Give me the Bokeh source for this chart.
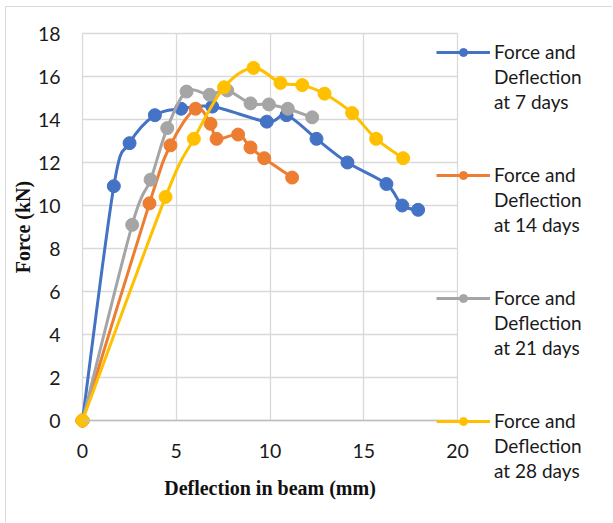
import math
from bokeh.plotting import figure
from bokeh.models import Range1d, Legend, LegendItem, FixedTicker, Label
from bokeh.embed import file_html
from bokeh.resources import INLINE

# Load-deflection readings (deflection in mm, force in kN)
defl_7 = [0, 1.67, 2.51, 3.86, 5.26, 6.92, 9.83, 10.88, 12.48, 14.13, 16.21, 17.05, 17.9]
force_7 = [0, 10.9, 12.9, 14.2, 14.5, 14.6, 13.9, 14.2, 13.1, 12.0, 11.0, 10.0, 9.8]

defl_14 = [0, 3.57, 4.69, 6.03, 6.83, 7.15, 8.3, 8.96, 9.69, 11.18]
force_14 = [0, 10.1, 12.8, 14.5, 13.8, 13.1, 13.3, 12.7, 12.2, 11.3]

defl_21 = [0, 2.65, 3.63, 4.52, 5.55, 6.78, 7.72, 8.96, 9.94, 10.95, 12.25]
force_21 = [0, 9.1, 11.2, 13.6, 15.3, 15.15, 15.35, 14.75, 14.7, 14.5, 14.1]

defl_28 = [0, 4.43, 5.94, 7.55, 9.12, 10.56, 11.72, 12.91, 14.38, 15.66, 17.1]
force_28 = [0, 10.4, 13.1, 15.5, 16.4, 15.7, 15.6, 15.2, 14.3, 13.1, 12.2]

series_ages = ["7 days", "14 days", "21 days", "28 days"]
series_colors = ["#4472C4", "#ED7D31", "#A5A5A5", "#FFC000"]

x_ticks = [0, 5, 10, 15, 20]
y_ticks = [0, 2, 4, 6, 8, 10, 12, 14, 16, 18]
x_title = "Deflection in beam (mm)"
y_title = "Force (kN)"

# Layout in pixels.  The frame fills the whole canvas; the data area
# (PLOT_W x PLOT_H) starts DATA_LEFT / DATA_TOP px in, and axes, titles and
# the legend are all placed inside the frame around it.
CANVAS_W, CANVAS_H = 607, 516
DATA_LEFT, DATA_TOP = 76, 26
PLOT_W, PLOT_H = 375, 387
px_x = (x_ticks[-1] - x_ticks[0]) / PLOT_W   # data units per pixel
px_y = (y_ticks[-1] - y_ticks[0]) / PLOT_H
x_start = x_ticks[0] - DATA_LEFT * px_x
x_end = x_start + CANVAS_W * px_x
y_end = y_ticks[-1] + DATA_TOP * px_y
y_start = y_end - CANVAS_H * px_y


def smooth_segments(xs, ys, k=1.0 / 6.0):
    """Cubic Bezier pieces through the points (Catmull-Rom style smoothing)."""
    n = len(xs)
    seg = dict(x0=[], y0=[], x1=[], y1=[], cx0=[], cy0=[], cx1=[], cy1=[])
    for i in range(n - 1):
        ip = max(i - 1, 0)
        inn = min(i + 2, n - 1)
        seg["x0"].append(xs[i])
        seg["y0"].append(ys[i])
        seg["x1"].append(xs[i + 1])
        seg["y1"].append(ys[i + 1])
        seg["cx0"].append(xs[i] + (xs[i + 1] - xs[ip]) * k)
        seg["cy0"].append(ys[i] + (ys[i + 1] - ys[ip]) * k)
        seg["cx1"].append(xs[i + 1] - (xs[inn] - xs[i]) * k)
        seg["cy1"].append(ys[i + 1] - (ys[inn] - ys[i]) * k)
    return seg


p = figure(
    width=CANVAS_W, height=CANVAS_H,
    x_range=Range1d(x_start, x_end), y_range=Range1d(y_start, y_end),
    output_backend="svg", toolbar_location=None,
    min_border_left=0, min_border_right=0,
    min_border_top=0, min_border_bottom=0,
    styles={"margin-left": "5px", "margin-top": "6px",
            "border-left": "1px solid #d9d9d9", "border-top": "1px solid #d9d9d9"},
)
p.outline_line_color = None
p.background_fill_color = "white"
p.border_fill_color = "white"

# grid, limited to the data area
for g in (p.xgrid, p.ygrid):
    g.grid_line_color = "#d9d9d9"
    g.grid_line_width = 1.3
p.xgrid.ticker = FixedTicker(ticks=x_ticks)
p.ygrid.ticker = FixedTicker(ticks=y_ticks)
p.xgrid.bounds = (x_ticks[0], x_ticks[-1])
p.ygrid.bounds = (y_ticks[0], y_ticks[-1])
p.ygrid.cross_bounds = (x_ticks[0], x_ticks[-1])
p.xgrid.cross_bounds = (y_ticks[0], y_ticks[-1])

# axes, pinned at the origin inside the frame
p.xaxis.ticker = FixedTicker(ticks=x_ticks)
p.yaxis.ticker = FixedTicker(ticks=y_ticks)
p.xaxis.bounds = (x_ticks[0], x_ticks[-1])
p.yaxis.bounds = (y_ticks[0], y_ticks[-1])
p.xaxis.fixed_location = 0
p.yaxis.fixed_location = 0
for ax in (p.xaxis[0], p.yaxis[0]):
    ax.major_tick_line_color = None
    ax.minor_tick_line_color = None
    ax.major_tick_out = 0
    ax.major_tick_in = 0
    ax.major_label_text_font = "Lato"
    ax.major_label_text_font_size = "19.5px"
    ax.major_label_text_color = "#1a1a1a"
p.xaxis.axis_line_color = "#bfbfbf"
p.xaxis.axis_line_width = 1.5
p.yaxis.axis_line_color = None
p.xaxis.major_label_standoff = 23
p.yaxis.major_label_standoff = 22

# axis titles
title_style = dict(text_font="Liberation Serif", text_font_style="bold",
                   text_font_size="20px", text_color="#111111",
                   text_align="center", text_baseline="middle")
p.add_layout(Label(x=(x_ticks[0] + x_ticks[-1]) / 2, y=-67 * px_y,
                   text=x_title, **title_style))
p.add_layout(Label(x=-60 * px_x, y=(y_ticks[0] + y_ticks[-1]) / 2,
                   text=y_title, angle=math.pi / 2, **title_style))

items = []
all_series = [(defl_7, force_7), (defl_14, force_14), (defl_21, force_21), (defl_28, force_28)]
for i, ((xs, ys), color, age) in enumerate(zip(all_series, series_colors, series_ages)):
    seg = smooth_segments(xs, ys)
    r_line = p.bezier(line_color=color, line_width=3, source=seg)
    r_pts = p.scatter(xs, ys, size=13, marker="circle", fill_color=color, line_color=color)
    items.append(LegendItem(label="Force and", renderers=[r_line, r_pts]))
    items.append(LegendItem(label="Deflection", renderers=[]))
    items.append(LegendItem(label="at " + age, renderers=[]))
    if i < len(all_series) - 1:
        items.append(LegendItem(label=" ", renderers=[]))
        items.append(LegendItem(label=" ", renderers=[]))

legend = Legend(
    items=items, location=(430, 41),
    glyph_width=54, glyph_height=20, label_height=22, label_standoff=4,
    label_text_font="Lato", label_text_font_size="19px",
    label_text_color="#1a1a1a",
    spacing=2, padding=0, margin=0,
    background_fill_alpha=0, border_line_alpha=0,
)
p.add_layout(legend, "center")

open("out.html", "w").write(file_html(p, INLINE))
